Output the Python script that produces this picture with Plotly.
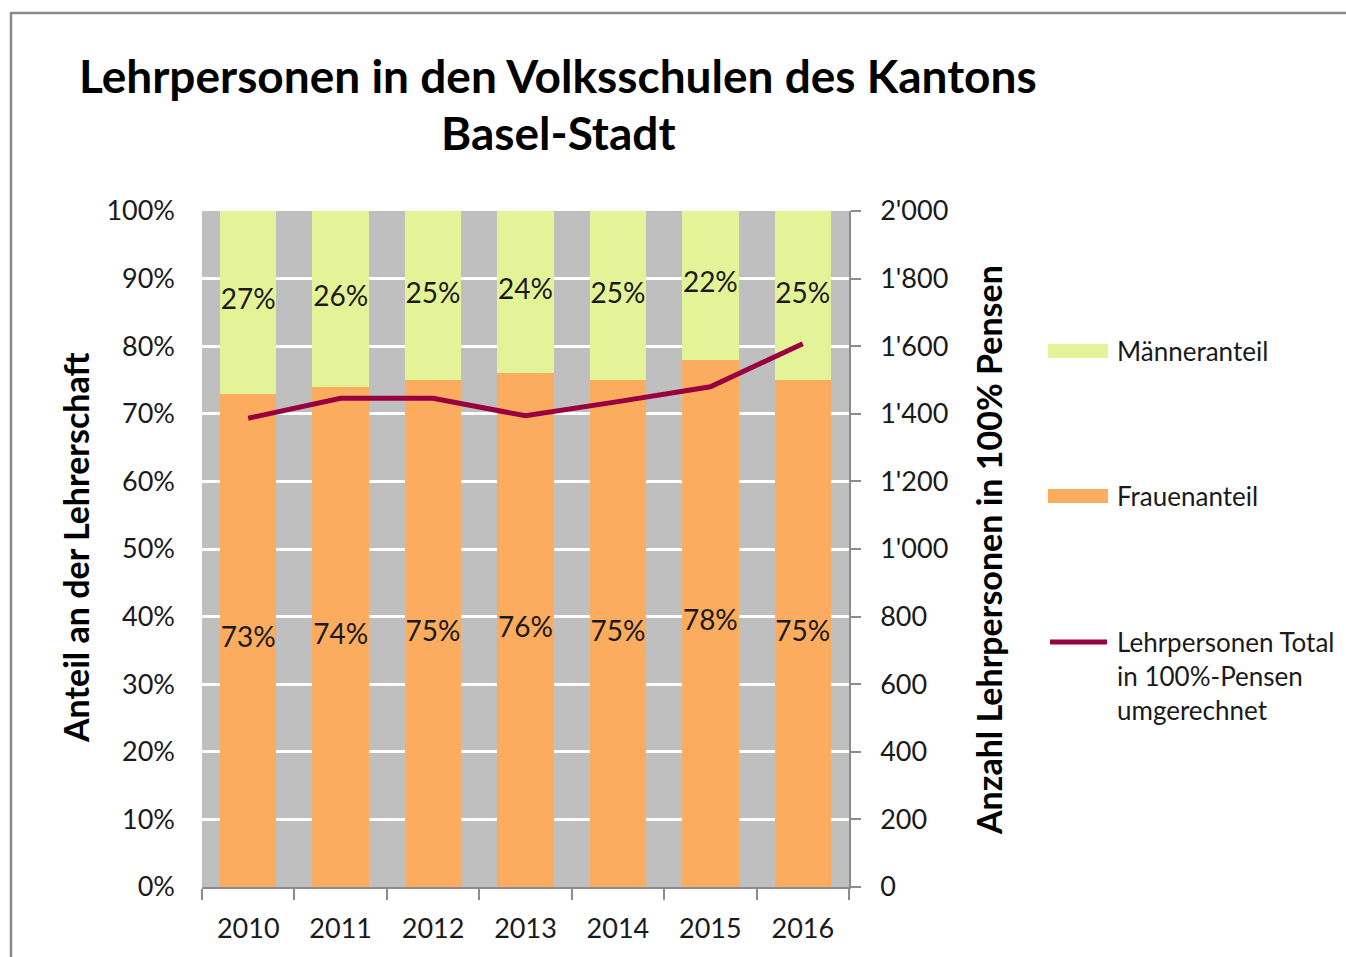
import plotly.graph_objects as go

# Data
years = ["2010", "2011", "2012", "2013", "2014", "2015", "2016"]
frauen_pct = [73, 74, 75, 76, 75, 78, 75]
maenner_pct = [27, 26, 25, 24, 25, 22, 25]
total_pensen = [1387, 1446, 1446, 1394, 1436, 1480, 1607]

# Layout geometry (pixels)
W, H = 1346, 957
PL, PR, PT, PB = 202, 849, 211, 887


def px(x):
    return (x - PL) / (PR - PL)


def py(y):
    return (PB - y) / (PB - PT)


FONT = "Lato"
TXT = "#1a1a1a"
AXC = "#8c8c8c"
C_M = "#E4F397"
C_F = "#FBAC5E"
C_L = "#99003F"

fig = go.Figure()

fig.add_trace(go.Bar(x=years, y=frauen_pct, name="Frauenanteil",
                     marker=dict(color=C_F, line=dict(width=0))))
fig.add_trace(go.Bar(x=years, y=maenner_pct, name="Männeranteil",
                     marker=dict(color=C_M, line=dict(width=0))))

# Percentage labels centred in each segment
fig.add_trace(go.Scatter(
    x=years + years,
    y=[f / 2 for f in frauen_pct] + [f + m / 2 for f, m in zip(frauen_pct, maenner_pct)],
    text=[f"{v}%" for v in frauen_pct] + [f"{v}%" for v in maenner_pct],
    mode="text", textposition="middle center",
    textfont=dict(family=FONT, size=28, color=TXT),
    cliponaxis=False, showlegend=False, hoverinfo="skip"))

fig.add_trace(go.Scatter(x=years, y=total_pensen, yaxis="y2", mode="lines",
                         name="Lehrpersonen Total in 100%-Pensen umgerechnet",
                         line=dict(color=C_L, width=5)))

annotations = [
    dict(text="<b>Lehrpersonen in den Volksschulen des Kantons</b>",
         x=px(558), y=py(75), xanchor="center", yanchor="middle",
         font=dict(family=FONT, size=46, color="#000")),
    dict(text="<b>Basel-Stadt</b>",
         x=px(558), y=py(133), xanchor="center", yanchor="middle",
         font=dict(family=FONT, size=46, color="#000")),
    dict(text="<b>Anteil an der Lehrerschaft</b>", textangle=-90,
         x=px(75), y=py(548), xanchor="center", yanchor="middle",
         font=dict(family=FONT, size=34, color="#000")),
    dict(text="<b>Anzahl Lehrpersonen in 100% Pensen</b>", textangle=-90,
         x=px(988), y=py(550), xanchor="center", yanchor="middle",
         font=dict(family=FONT, size=34, color="#000")),
    dict(text="Männeranteil", x=px(1115), y=py(351), xanchor="left", yanchor="middle",
         font=dict(family=FONT, size=26, color=TXT)),
    dict(text="Frauenanteil", x=px(1115), y=py(496), xanchor="left", yanchor="middle",
         font=dict(family=FONT, size=26, color=TXT)),
    dict(text="Lehrpersonen Total<br>in 100%-Pensen<br>umgerechnet", align="left",
         x=px(1115), y=py(624), xanchor="left", yanchor="top",
         font=dict(family=FONT, size=26, color=TXT)),
]
for a in annotations:
    a.update(xref="paper", yref="paper", showarrow=False)

shapes = [
    # outer frame
    dict(type="rect", xref="paper", yref="paper",
         x0=px(11), x1=px(1400), y0=py(13), y1=py(1000),
         line=dict(color="#8a8a8a", width=2.5), fillcolor="rgba(0,0,0,0)", layer="below"),
    # legend swatches
    dict(type="rect", xref="paper", yref="paper", x0=px(1048), x1=px(1108),
         y0=py(358), y1=py(344), fillcolor=C_M, line=dict(width=0)),
    dict(type="rect", xref="paper", yref="paper", x0=px(1048), x1=px(1108),
         y0=py(503), y1=py(489), fillcolor=C_F, line=dict(width=0)),
    dict(type="line", xref="paper", yref="paper", x0=px(1050), x1=px(1107),
         y0=py(642), y1=py(642), line=dict(color=C_L, width=5)),
]

fig.update_layout(
    width=W, height=H, autosize=False,
    margin=dict(l=PL, r=W - PR, t=PT, b=H - PB, pad=0),
    paper_bgcolor="white", plot_bgcolor="#BFBFBF",
    barmode="stack", bargap=0.39,
    separators=".'",
    showlegend=False,
    font=dict(family=FONT, size=27, color=TXT),
    annotations=annotations, shapes=shapes,
    xaxis=dict(type="category", range=[-0.5, 6.5], tickson="boundaries",
               ticks="outside", ticklen=11, tickwidth=1.5, tickcolor=AXC,
               showline=True, linecolor=AXC, linewidth=1.5, showgrid=False,
               tickfont=dict(family=FONT, size=27, color=TXT), ticklabelstandoff=17),
    yaxis=dict(range=[0, 100], dtick=10, ticksuffix="%", showgrid=True,
               gridcolor="white", gridwidth=2.5, zeroline=False, showline=False,
               ticks="", tickfont=dict(family=FONT, size=27, color=TXT),
               ticklabelstandoff=26),
    yaxis2=dict(range=[0, 2000], dtick=200, tickformat=",d", overlaying="y",
                side="right", showgrid=False, zeroline=False, showline=True,
                linecolor=AXC, linewidth=1.5, ticks="outside", ticklen=10,
                tickwidth=1.5, tickcolor=AXC,
                tickfont=dict(family=FONT, size=27, color=TXT), ticklabelstandoff=14),
)

fig.write_html("out.html")
